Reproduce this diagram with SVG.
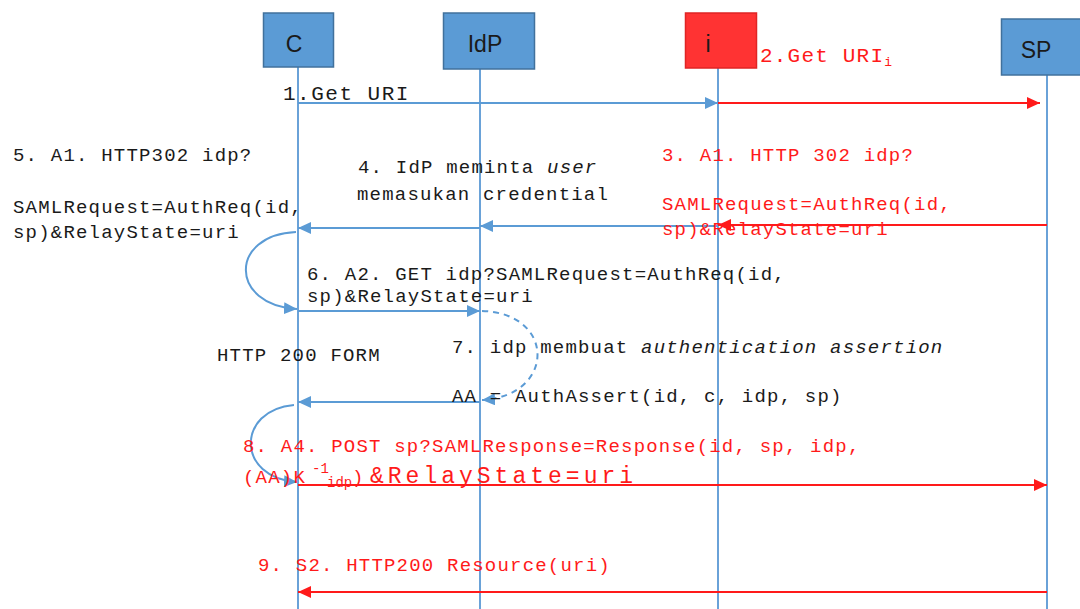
<svg xmlns="http://www.w3.org/2000/svg" width="1080" height="609" viewBox="0 0 1080 609">
<style>
.box{fill:#5b9bd5;stroke:#41719c;stroke-width:1.5}
.boxr{fill:#ff3333;stroke:#e02525;stroke-width:1.5}
.lbl{font-family:"Liberation Sans",Arial,sans-serif;font-size:23px;fill:#1a1a1a;text-anchor:middle}
.life{stroke:#6aa2d8;stroke-width:2;fill:none}
.mb{stroke:#5b9bd5;stroke-width:2;fill:none}
.mr{stroke:#ff1a1a;stroke-width:2;fill:none}
.t{font-family:"Liberation Mono","Courier New",monospace;font-size:19px;letter-spacing:1.2px;fill:#1a1a1a}
.tr{font-family:"Liberation Mono","Courier New",monospace;font-size:19px;letter-spacing:1.2px;fill:#ff1a1a}
.it{font-style:italic}
</style>
<defs>
<marker id="ab" markerUnits="userSpaceOnUse" markerWidth="14" markerHeight="12" refX="13" refY="6" orient="auto"><path d="M0,0 L13,6 L0,12 z" fill="#5b9bd5"/></marker>
<marker id="ar" markerUnits="userSpaceOnUse" markerWidth="14" markerHeight="12" refX="13" refY="6" orient="auto"><path d="M0,0 L13,6 L0,12 z" fill="#ff1a1a"/></marker>
</defs>

<g id="lifelines">
<line class="life" x1="298" y1="67" x2="298" y2="609"/>
<line class="life" x1="480" y1="69" x2="480" y2="609"/>
<line class="life" x1="718" y1="68" x2="718" y2="609"/>
<line class="life" x1="1047" y1="75" x2="1047" y2="609"/>
</g>

<g id="node-C"><rect class="box" x="263.5" y="13" width="70" height="54"/><text class="lbl" x="294" y="52">C</text></g>
<g id="node-IdP"><rect class="box" x="443.5" y="13" width="91" height="56"/><text class="lbl" x="485" y="52">IdP</text></g>
<g id="node-i"><rect class="boxr" x="685.5" y="13" width="71" height="55"/><text class="lbl" x="708" y="52">i</text></g>
<g id="node-SP"><rect class="box" x="1001.5" y="19" width="85" height="56"/><text class="lbl" x="1036" y="58">SP</text></g>

<g id="connectors">
<line class="mb" x1="298" y1="103" x2="718" y2="103" marker-end="url(#ab)"/>
<line class="mr" x1="718" y1="103" x2="1040" y2="103" marker-end="url(#ar)"/>
<line class="mr" x1="1047" y1="225" x2="718" y2="225" marker-end="url(#ar)"/>
<line class="mb" x1="718" y1="226" x2="480" y2="226" marker-end="url(#ab)"/>
<line class="mb" x1="480" y1="228" x2="298" y2="228" marker-end="url(#ab)"/>
<path class="mb" d="M296,232 C229,235 229,305 297,309" marker-end="url(#ab)"/>
<line class="mb" x1="298" y1="311" x2="480" y2="311" marker-end="url(#ab)"/>
<path class="mb" d="M482,311 C556,313 556,396 482,400" stroke-dasharray="6,5" marker-end="url(#ab)"/>
<line class="mb" x1="480" y1="402" x2="298" y2="402" marker-end="url(#ab)"/>
<path class="mb" d="M294,405 C236,410 236,478 297,482" marker-end="url(#ab)"/>
<line class="mr" x1="298" y1="485" x2="1047" y2="485" marker-end="url(#ar)"/>
<line class="mr" x1="1047" y1="592" x2="298" y2="592" marker-end="url(#ar)"/>
</g>

<g id="labels">
<text class="t" x="283" y="100" style="font-size:21px;letter-spacing:1.5px">1.Get URI</text>
<text class="tr" x="760" y="62" style="font-size:21px;letter-spacing:1.2px">2.Get URI<tspan style="font-size:13px;letter-spacing:0" dy="4">i</tspan></text>
<text class="t" x="13" y="161">5. A1. HTTP302 idp?</text>
<text class="t" x="13" y="213">SAMLRequest=AuthReq(id,</text>
<text class="t" x="13" y="238">sp)&amp;RelayState=uri</text>
<text class="t" x="358" y="173">4. IdP meminta <tspan class="it">user</tspan></text>
<text class="t" x="357" y="200">memasukan credential</text>
<text class="tr" x="662" y="161">3. A1. HTTP 302 idp?</text>
<text class="tr" x="662" y="210">SAMLRequest=AuthReq(id,</text>
<text class="tr" x="662" y="235">sp)&amp;RelayState=uri</text>
<text class="t" x="307" y="280">6. A2. GET idp?SAMLRequest=AuthReq(id,</text>
<text class="t" x="307" y="302">sp)&amp;RelayState=uri</text>
<text class="t" x="217" y="361">HTTP 200 FORM</text>
<text class="t" x="452" y="353">7. idp membuat <tspan class="it">authentication assertion</tspan></text>
<text class="t" x="452" y="402">AA = AuthAssert(id, c, idp, sp)</text>
<text class="tr" x="243" y="452">8. A4. POST sp?SAMLResponse=Response(id, sp, idp,</text>
<text class="tr" x="243" y="483">(AA)K<tspan x="312" y="473" style="font-size:14px;letter-spacing:0">-1</tspan><tspan x="327" y="487" style="font-size:14px;letter-spacing:0">idp</tspan><tspan x="352" y="483">)</tspan><tspan x="370" y="483" style="font-size:23px;letter-spacing:4px">&amp;RelayState=uri</tspan></text>
<text class="tr" x="258" y="571">9. S2. HTTP200 Resource(uri)</text>
</g>
</svg>
